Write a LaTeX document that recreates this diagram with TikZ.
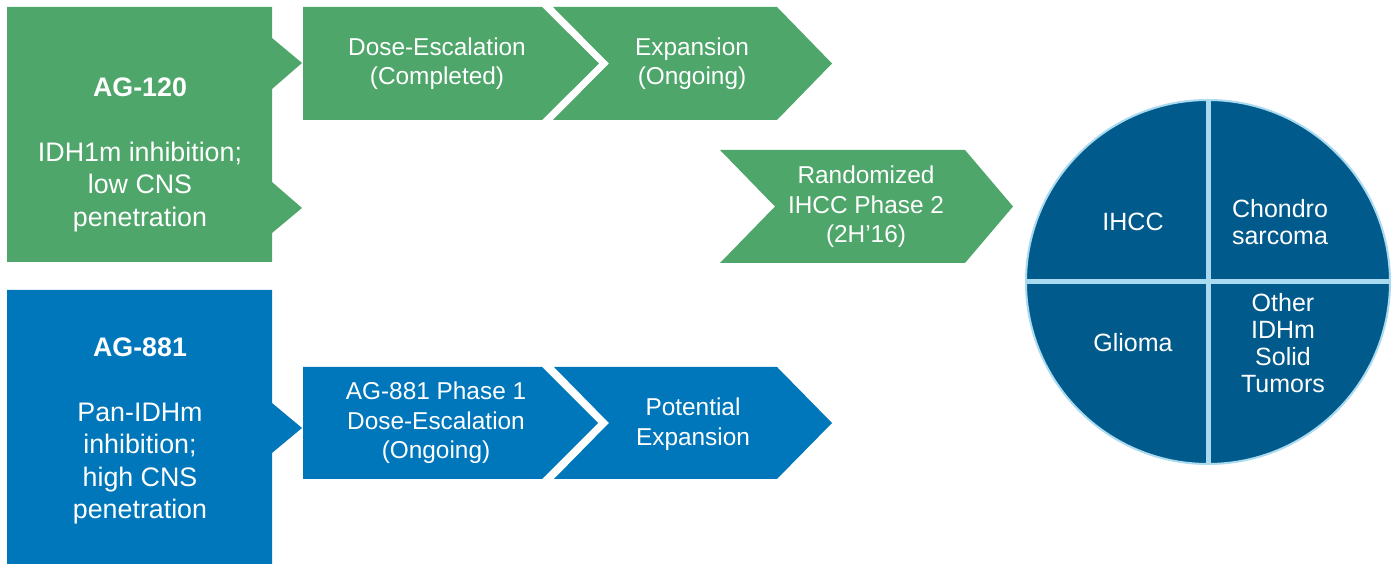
\documentclass[tikz,border=0pt]{standalone}
\usepackage{fontspec}
\setmainfont{Liberation Sans}
\definecolor{agreen}{RGB}{78,166,106}
\definecolor{ablue}{RGB}{0,119,187}
\definecolor{piefill}{RGB}{0,90,140}
\definecolor{pieline}{RGB}{170,218,240}
\tikzset{
  lefttxt/.style={text=white, align=center, inner sep=0pt, font=\fontsize{13.4}{16.2}\selectfont},
  chevtxt/.style={text=white, align=center, inner sep=0pt, font=\fontsize{12.2}{14.7}\selectfont},
  pietxt/.style={text=white, align=center, inner sep=0pt, font=\fontsize{12.5}{13.4}\selectfont},
  divider/.style={draw=pieline, line width=2.5pt},
}
\begin{document}
\begin{tikzpicture}[x=0.5pt,y=-0.5pt]
\fill[white] (0,0) rectangle (1398,565);
\useasboundingbox (0,0) rectangle (1398,565);

% green row
\fill[agreen] (7,7)--(272,7)--(272,38)--(302,63)--(272,89)--(272,182)--(302,208)--(272,233)--(272,262)--(7,262)--cycle;
\fill[agreen] (303,7)--(542,7)--(599,63.5)--(542,120)--(303,120)--cycle;
\fill[agreen] (553,7)--(777,7)--(832,63.5)--(777,120)--(553,120)--(609,63.5)--cycle;
\fill[agreen] (720,150)--(965,150)--(1013,206.5)--(965,263)--(720,263)--(775,206.5)--cycle;

% blue row
\fill[ablue] (7,290)--(272,290)--(272,403)--(302,428)--(272,453)--(272,564)--(7,564)--cycle;
\fill[ablue] (303,367)--(542,367)--(598,423)--(542,479)--(303,479)--cycle;
\fill[ablue] (554,367)--(777,367)--(832,423)--(777,479)--(554,479)--(609,423)--cycle;

% texts
\node[lefttxt] (ag120) at (140,155) {\textbf{AG-120}\\[16.2pt]IDH1m inhibition;\\low CNS\\penetration};
\node[lefttxt] (ag881) at (140,431) {\textbf{AG-881}\\[16.2pt]Pan-IDHm\\inhibition;\\high CNS\\penetration};
\node[chevtxt] (dose) at (437,64) {Dose-Escalation\\(Completed)};
\node[chevtxt] (expa) at (692,64) {Expansion\\(Ongoing)};
\node[chevtxt] (rand) at (866,207) {Randomized\\IHCC Phase 2\\(2H’16)};
\node[chevtxt] (ph1) at (436,423) {AG-881 Phase 1\\Dose-Escalation\\(Ongoing)};
\node[chevtxt] (pot) at (693,424) {Potential\\Expansion};

% pie
\node[circle, draw=pieline, line width=1pt, fill=piefill, minimum size=182pt, inner sep=0pt] (pie) at (1208,282) {};
\draw[divider] (pie.north) -- (pie.south);
\draw[divider] (pie.west) -- (pie.east);
\node[pietxt] (ihcc) at (1133,222) {IHCC};
\node[pietxt] (chon) at (1280,222) {Chondro\\sarcoma};
\node[pietxt] (glio) at (1133,343) {Glioma};
\node[pietxt] (other) at (1283,343) {Other\\IDHm\\Solid\\Tumors};
\end{tikzpicture}
\end{document}
